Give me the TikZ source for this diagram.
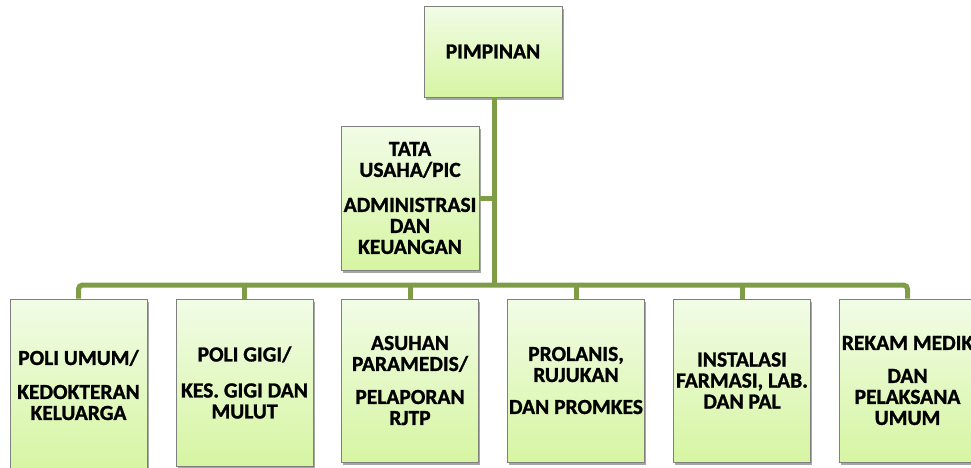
\documentclass[tikz,border=0pt]{standalone}
\usepackage{fontspec}
\setmainfont{Carlito}[BoldFont={Carlito Bold}, BoldFeatures={FakeBold=1.2}]
\usetikzlibrary{shadows}
\definecolor{linegreen}{HTML}{7F9C47}
\definecolor{boxtop}{HTML}{F1FCE6}
\definecolor{boxbot}{HTML}{D6F5A2}
\definecolor{boxborder}{HTML}{7F7F7F}
\tikzset{
  orgbox/.style={draw=boxborder, line width=0.8pt, top color=boxtop, bottom color=boxbot,
    align=center, inner xsep=0pt, inner ysep=2pt,
    font=\fontsize{21.5}{21}\selectfont\bfseries,
    drop shadow={shadow xshift=1.5pt, shadow yshift=-2.5pt, opacity=0.35, fill=black}},
  lowbox/.style={orgbox, minimum width=137pt, minimum height=163pt},
  conn/.style={draw=linegreen, line width=5pt}
}
\begin{document}
\begin{tikzpicture}[x=1pt,y=-1pt]
\useasboundingbox (0,0) rectangle (971,467);
\node[orgbox, minimum width=138pt, minimum height=91pt] (pim) at (493,51.5) {PIMPINAN};
\node[orgbox, minimum width=138pt, minimum height=144pt] (tata) at (410,198) {TATA\\USAHA/PIC\\[14pt]ADMINISTRASI\\DAN\\KEUANGAN};
\coordinate (bus) at (494,285);
\node[lowbox, minimum height=172pt] (b1) at (78.5,385) {POLI UMUM/\\[13pt]KEDOKTERAN\\KELUARGA};
\node[lowbox, minimum height=167pt] (b2) at (244.5,382.5) {POLI GIGI/\\[15pt]KES. GIGI DAN\\MULUT};
\node[lowbox] (b3) at (410,380.5) {ASUHAN\\PARAMEDIS/\\[12pt]PELAPORAN\\RJTP};
\node[lowbox] (b4) at (576,380.5) {PROLANIS,\\RUJUKAN\\[11pt]DAN PROMKES};
\node[lowbox] (b5) at (742,380.5) {INSTALASI\\FARMASI, LAB.\\DAN PAL};
\node[lowbox] (b6) at (907.5,380.5) {REKAM MEDIK\\[12pt]DAN\\PELAKSANA\\UMUM};
\draw[conn] (pim.south -| bus) -- (bus);
\draw[conn] (tata.east) -- (tata.east -| bus);
\draw[conn, rounded corners=4pt] (b1.north) -- (b1.north |- bus) -- (b6.north |- bus) -- (b6.north);
\draw[conn] (b2.north) -- (b2.north |- bus);
\draw[conn] (b3.north) -- (b3.north |- bus);
\draw[conn] (b4.north) -- (b4.north |- bus);
\draw[conn] (b5.north) -- (b5.north |- bus);
\end{tikzpicture}
\end{document}
